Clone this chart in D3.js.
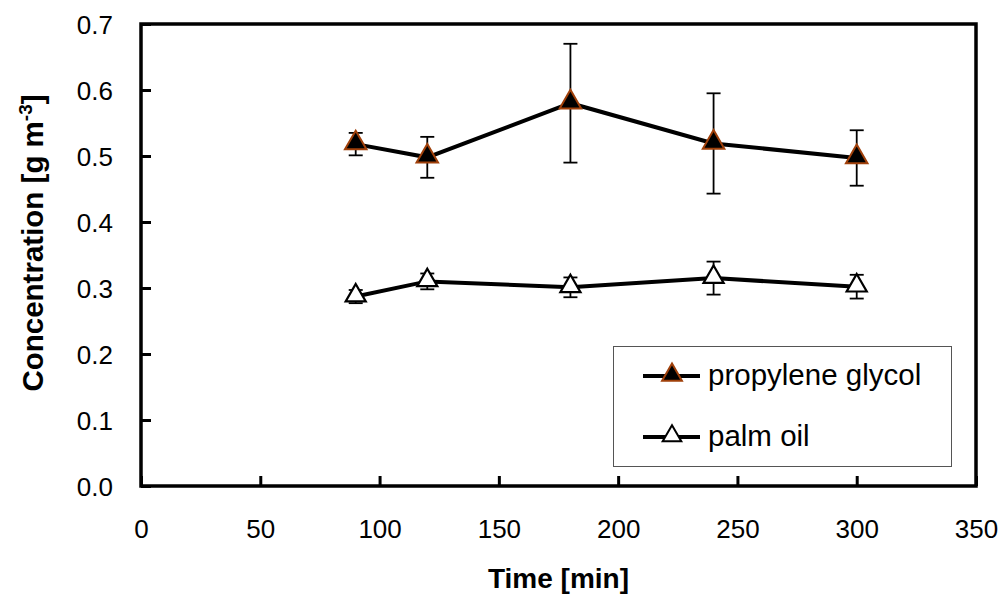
<!DOCTYPE html>
<html><head><meta charset="utf-8">
<script src="https://cdn.jsdelivr.net/npm/d3@7"></script>
<style>body{margin:0;background:#fff}svg{display:block;font-family:"Liberation Sans",Arial,sans-serif}</style>
</head><body><svg id="c" width="1003" height="597"></svg>
<script>
const times = [90, 120, 180, 240, 300];
const pgValues = [0.518, 0.498, 0.580, 0.519, 0.497];
const pgErrors = [0.017, 0.031, 0.090, 0.076, 0.042];
const poValues = [0.287, 0.310, 0.301, 0.315, 0.302];
const poErrors = [0.010, 0.012, 0.015, 0.025, 0.018];
const xTicks = [0, 50, 100, 150, 200, 250, 300, 350];
const yTicks = [0, 0.1, 0.2, 0.3, 0.4, 0.5, 0.6, 0.7];
const seriesNames = ["propylene glycol", "palm oil"];

const svg = d3.select("#c");
const L = 141, R = 976, T = 24, B = 486;
const x = d3.scaleLinear().domain([0, 350]).range([L, R]);
const y = d3.scaleLinear().domain([0, 0.7]).range([B, T]);

svg.append("rect").attr("x", L).attr("y", T).attr("width", R - L).attr("height", B - T)
  .attr("fill", "none").attr("stroke", "#000").attr("stroke-width", 3.5);

const yAxis = d3.axisLeft(y).tickValues(yTicks).tickSize(-10).tickPadding(28).tickFormat(d3.format(".1f"));
const gy = svg.append("g").attr("transform", `translate(${L},0)`).call(yAxis);
const xAxis = d3.axisBottom(x).tickValues(xTicks).tickSize(-10).tickPadding(34).tickFormat(d3.format("d"));
const gx = svg.append("g").attr("transform", `translate(0,${B})`).call(xAxis);
[gx, gy].forEach(g => {
  g.select(".domain").remove();
  g.selectAll(".tick line").attr("stroke", "#000").attr("stroke-width", 3);
  g.selectAll(".tick text").attr("fill", "#000").style("font-size", "26px");
});
gy.selectAll(".tick text").attr("dy", "0.36em");
gx.selectAll(".tick text").attr("dy", "0.71em");

svg.append("text").attr("x", x(175)).attr("y", 588).attr("text-anchor", "middle")
  .style("font-size", "28px").style("font-weight", "bold").text("Time [min]");
const yt = svg.append("text").attr("transform", `translate(43,243) rotate(-90)`)
  .attr("text-anchor", "middle").style("font-size", "29.5px").style("font-weight", "bold");
yt.append("tspan").text("Concentration [g m");
yt.append("tspan").attr("dy", "-11").style("font-size", "19px").text("-3");
yt.append("tspan").attr("dy", "11").text("]");

const tri = d3.symbol().type(d3.symbolTriangle);
function drawSeries(vals, errs, fill, stroke, size, sw) {
  const g = svg.append("g");
  times.forEach((t, i) => {
    const cx = x(t), y1 = y(vals[i] + errs[i]), y0 = y(vals[i] - errs[i]);
    g.append("line").attr("x1", cx).attr("x2", cx).attr("y1", y1).attr("y2", y0).attr("stroke", "#000").attr("stroke-width", 1.8);
    [y1, y0].forEach(yy => g.append("line").attr("x1", cx - 7).attr("x2", cx + 7).attr("y1", yy).attr("y2", yy).attr("stroke", "#000").attr("stroke-width", 1.8));
  });
  g.append("path").datum(vals)
    .attr("d", d3.line().x((d, i) => x(times[i])).y(d => y(d)))
    .attr("fill", "none").attr("stroke", "#000").attr("stroke-width", 4);
  g.selectAll("path.m").data(vals).join("path").attr("class", "m")
    .attr("d", tri.size(size)).attr("transform", (d, i) => `translate(${x(times[i])},${y(d) - 1})`)
    .attr("fill", fill).attr("stroke", stroke).attr("stroke-width", sw);
}
drawSeries(pgValues, pgErrors, "#000", "#a0400a", 200, 2);
drawSeries(poValues, poErrors, "#fff", "#000", 175, 2.2);

const lg = svg.append("g");
lg.append("rect").attr("x", 613.5).attr("y", 346.5).attr("width", 338).attr("height", 120)
  .attr("fill", "#fff").attr("stroke", "#555").attr("stroke-width", 1);
const legendRows = [
  {name: seriesNames[0], fill: "#000", stroke: "#a0400a", size: 170, ly: 376},
  {name: seriesNames[1], fill: "#fff", stroke: "#000", size: 150, ly: 437}
];
legendRows.forEach(r => {
  lg.append("line").attr("x1", 643).attr("x2", 700).attr("y1", r.ly).attr("y2", r.ly).attr("stroke", "#000").attr("stroke-width", 4);
  lg.append("path").attr("d", tri.size(r.size)).attr("transform", `translate(672,${r.ly - 1})`)
    .attr("fill", r.fill).attr("stroke", r.stroke).attr("stroke-width", 2);
  lg.append("text").attr("x", 708).attr("y", r.ly + 9).style("font-size", "29.5px").text(r.name);
});
</script></body></html>
